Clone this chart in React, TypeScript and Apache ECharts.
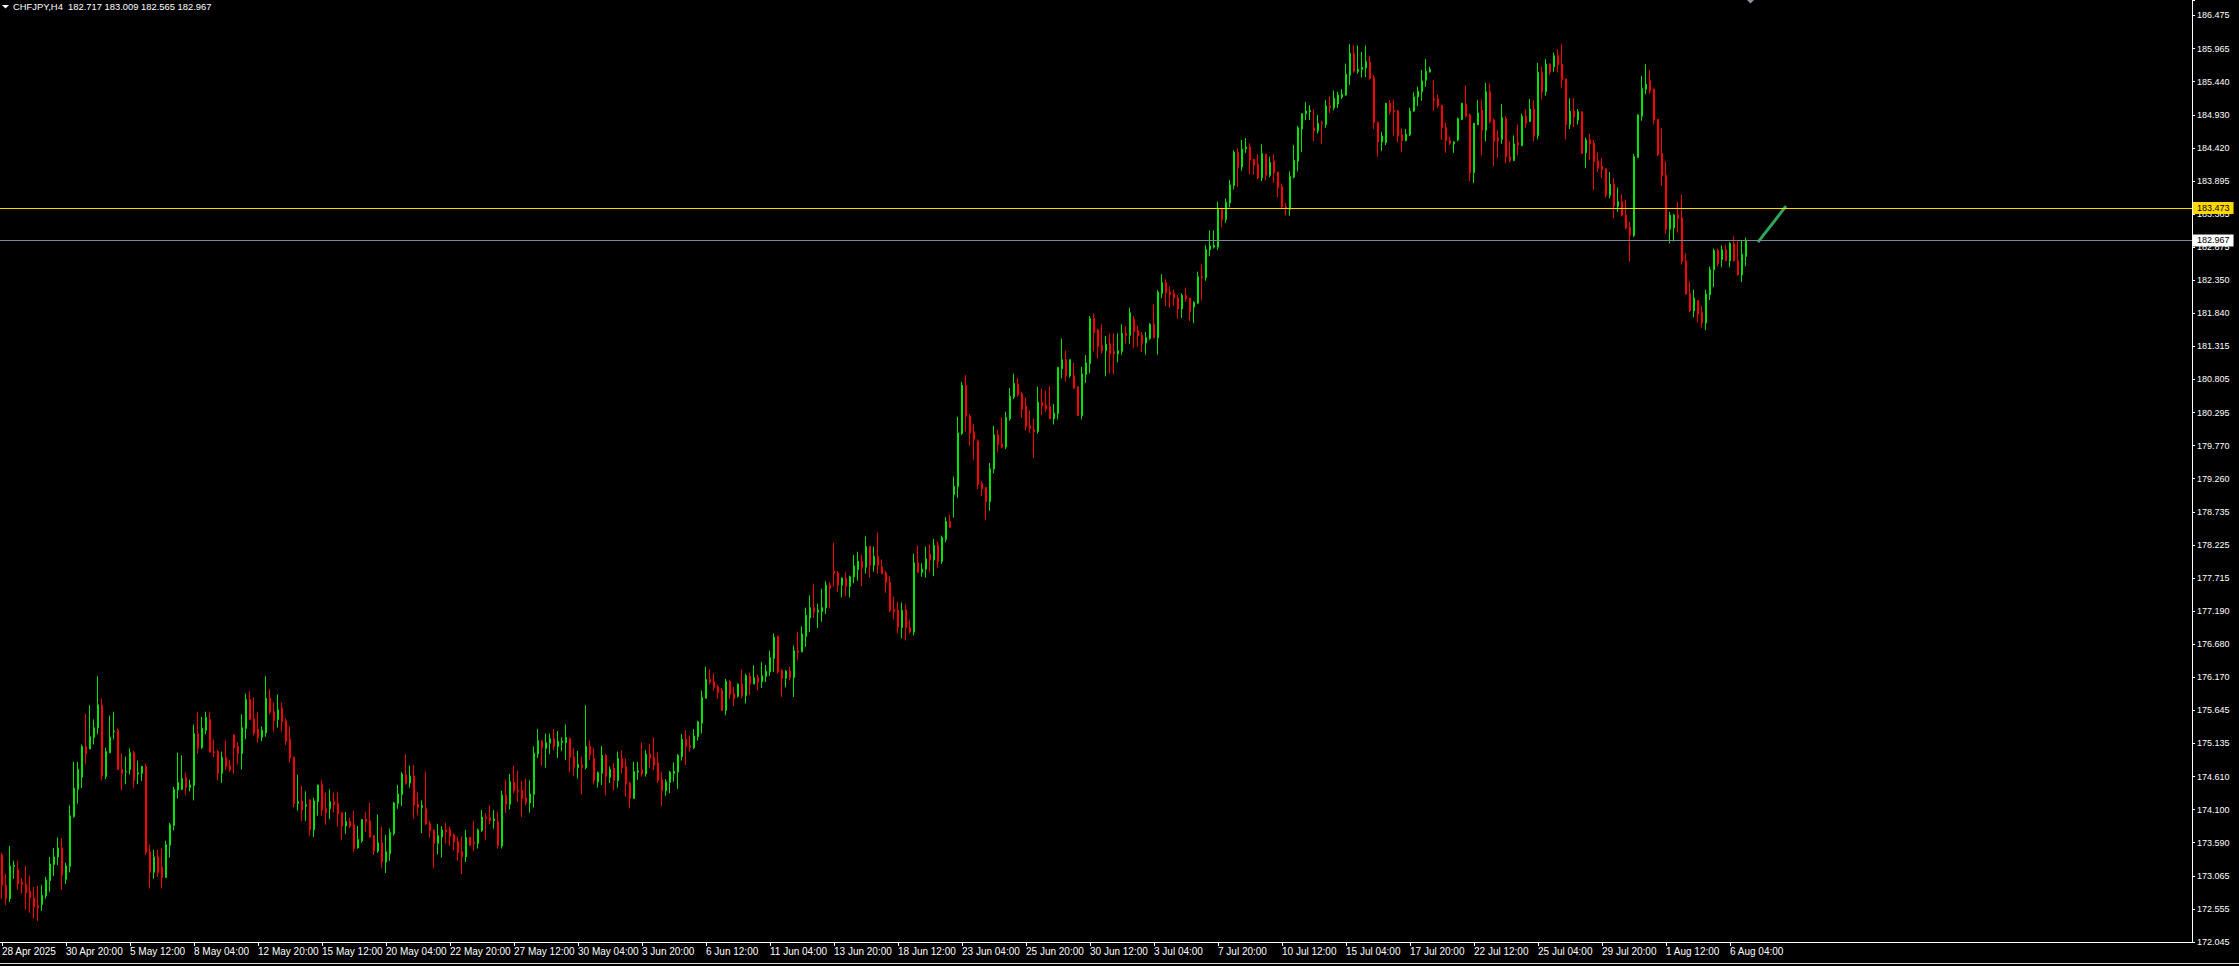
import React, { useEffect, useRef } from "react";
import * as echarts from "echarts";

// ---------- DATA ----------
const titleText = "CHFJPY,H4  182.717 183.009 182.565 182.967";

const tickLabels = [
  "28 Apr 2025", "30 Apr 20:00", "5 May 12:00", "8 May 04:00", "12 May 20:00", "15 May 12:00",
  "20 May 04:00", "22 May 20:00", "27 May 12:00", "30 May 04:00", "3 Jun 20:00", "6 Jun 12:00",
  "11 Jun 04:00", "13 Jun 20:00", "18 Jun 12:00", "23 Jun 04:00", "25 Jun 20:00", "30 Jun 12:00",
  "3 Jul 04:00", "7 Jul 20:00", "10 Jul 12:00", "15 Jul 04:00", "17 Jul 20:00", "22 Jul 12:00",
  "25 Jul 04:00", "29 Jul 20:00", "1 Aug 12:00", "6 Aug 04:00",
];

const priceLabels = [
  "172.045", "172.555", "173.065", "173.590", "174.100", "174.610", "175.135", "175.645",
  "176.170", "176.680", "177.190", "177.715", "178.225", "178.735", "179.260", "179.770",
  "180.295", "180.805", "181.315", "181.840", "182.350", "182.875", "183.385", "183.895",
  "184.420", "184.930", "185.440", "185.965", "186.475",
];

const openPrices = [
  173.40,172.93,172.72,173.22,173.17,172.97,172.94,172.83,172.73,172.61,
  172.63,172.76,173.00,173.25,173.37,173.51,173.02,173.22,174.00,174.42,
  174.61,175.09,175.05,175.23,175.38,175.73,174.62,174.99,175.32,175.34,
  174.73,174.69,174.73,174.99,174.66,174.67,174.78,173.45,173.13,173.37,
  173.21,173.05,173.55,173.86,174.41,174.42,174.60,174.45,174.48,175.29,
  175.07,175.34,175.51,175.01,175.01,174.67,174.92,174.79,175.27,175.09,
  174.98,175.37,175.82,175.52,175.36,175.23,175.30,175.84,175.63,175.51,
  175.68,175.49,175.20,174.92,174.20,174.24,174.16,174.26,173.79,174.23,
  174.49,174.12,174.12,174.23,174.20,174.06,173.85,173.92,173.87,173.51,
  173.62,173.95,173.93,173.70,173.46,173.59,173.29,173.42,173.73,174.20,
  174.34,174.65,174.52,174.63,174.19,174.14,174.12,173.89,173.79,173.58,
  173.68,173.79,173.79,173.71,173.61,173.45,173.37,173.67,173.60,173.58,
  173.78,173.99,173.98,173.93,173.92,173.54,174.33,174.19,174.53,174.41,
  174.40,174.29,174.21,174.34,174.97,175.17,175.06,175.14,175.21,175.09,
  175.15,175.15,175.21,174.93,174.76,174.80,174.76,175.09,174.90,174.54,
  174.67,174.95,174.61,174.75,174.56,174.90,174.77,174.52,174.28,174.69,
  174.73,174.66,174.97,174.92,174.83,174.57,174.40,174.53,174.67,174.69,
  174.93,175.20,175.10,175.07,175.24,175.45,175.84,176.13,176.10,176.02,
  175.96,175.65,176.10,175.91,175.87,176.06,175.88,176.18,176.06,176.16,
  176.10,176.18,176.25,176.46,176.80,176.27,176.15,176.26,176.16,176.58,
  176.56,176.80,177.09,177.25,177.18,177.19,177.25,177.60,177.82,177.79,
  177.60,177.71,177.58,177.73,177.84,177.97,177.88,178.20,177.91,178.05,
  177.88,177.79,177.64,177.22,177.21,176.94,177.22,176.94,176.87,177.95,
  177.80,177.85,178.08,177.99,178.22,177.97,178.31,178.59,179.01,179.13,
  179.96,180.71,180.23,179.99,179.84,179.18,179.12,178.90,179.41,179.94,
  179.80,179.75,180.19,180.53,180.73,180.58,180.39,180.08,180.02,179.99,
  180.44,180.40,180.38,180.19,180.27,180.97,181.11,180.86,180.86,180.69,
  180.24,180.88,181.05,181.75,181.57,181.33,181.25,181.36,181.24,181.20,
  181.24,181.52,181.49,181.74,181.56,181.49,181.37,181.44,181.66,181.45,
  182.14,182.31,182.16,182.14,182.07,181.90,182.11,182.07,181.93,181.99,
  182.40,182.39,182.82,182.86,182.86,183.45,183.29,183.55,183.82,184.34,
  184.11,184.39,184.42,184.23,184.15,183.94,184.31,183.98,184.20,184.03,
  183.80,183.49,183.45,183.95,184.20,184.70,184.94,184.97,184.72,184.67,
  184.80,184.77,185.06,185.03,185.09,185.20,185.23,185.54,185.88,185.60,
  185.63,185.65,185.74,185.50,184.80,184.50,184.49,185.10,184.99,184.98,
  184.61,184.52,184.61,184.98,185.20,185.28,185.46,185.59,185.17,185.17,
  185.07,184.73,184.52,184.47,184.53,184.85,185.09,184.92,184.02,184.77,
  184.99,184.68,185.28,184.84,184.56,184.54,184.86,184.27,184.21,184.49,
  184.44,184.90,184.82,185.01,184.60,185.58,185.28,185.71,185.67,185.84,
  185.71,185.48,184.77,184.98,184.84,184.97,184.33,184.53,184.48,184.20,
  184.12,184.08,183.67,183.84,183.50,183.57,183.36,183.17,183.04,184.26,
  184.90,185.32,185.45,185.32,184.85,184.32,183.98,183.14,183.16,183.36,
  183.32,182.65,182.14,181.87,182.03,181.85,181.68,182.12,182.51,182.81,
  182.67,182.82,182.65,182.92,182.65,182.43,182.717,
];

const highPrices = [
  173.43,173.11,173.54,173.31,173.31,173.04,173.23,173.08,172.90,172.92,
  172.93,173.06,173.37,173.51,173.67,173.66,173.28,174.17,174.85,174.85,
  175.12,175.60,175.73,175.51,176.18,175.83,175.07,175.57,175.63,175.37,
  174.98,174.93,175.06,175.02,174.87,174.78,174.82,173.56,173.48,173.48,
  173.50,173.62,173.90,174.46,174.99,174.95,174.68,174.57,175.43,175.62,
  175.55,175.63,175.62,175.20,175.04,175.01,175.18,174.88,175.27,175.15,
  175.59,175.91,175.95,175.85,175.62,175.40,176.18,175.98,175.77,175.90,
  175.77,175.52,175.40,174.93,174.65,174.48,174.39,174.26,174.29,174.49,
  174.56,174.37,174.42,174.37,174.37,174.06,174.07,173.98,174.09,173.85,
  173.95,174.07,174.21,173.71,174.03,173.84,173.71,173.81,174.23,174.49,
  174.69,174.97,174.79,174.80,174.37,174.25,174.70,173.93,173.79,173.88,
  173.85,173.90,173.84,173.73,173.68,173.69,173.79,173.68,173.93,173.81,
  174.10,174.05,174.17,174.10,174.07,174.40,174.57,174.66,174.79,174.71,
  174.56,174.59,174.56,175.09,175.36,175.19,175.29,175.29,175.36,175.33,
  175.23,175.43,175.23,175.06,175.02,174.93,175.73,175.18,175.06,174.70,
  175.10,174.97,174.78,174.83,175.01,175.03,174.90,174.54,174.85,174.85,
  175.15,175.03,175.13,175.23,174.99,174.69,174.58,174.71,174.84,174.97,
  175.28,175.34,175.26,175.36,175.49,175.96,176.33,176.29,176.23,176.05,
  176.00,176.14,176.12,176.01,176.07,176.29,176.22,176.24,176.35,176.21,
  176.40,176.36,176.58,176.85,176.82,176.29,176.28,176.33,176.66,176.87,
  176.96,177.25,177.44,177.61,177.31,177.54,177.66,177.64,178.26,177.82,
  177.72,177.80,177.75,178.07,178.12,178.07,178.36,178.20,178.20,178.42,
  178.00,177.82,177.74,177.42,177.34,177.33,177.30,177.06,178.09,178.22,
  177.94,178.20,178.23,178.32,178.28,178.37,178.66,178.70,179.29,180.22,
  180.76,180.87,180.26,180.11,179.87,179.22,179.12,179.50,180.08,180.02,
  180.21,180.30,180.67,180.89,180.83,180.61,180.52,180.32,180.19,180.69,
  180.66,180.63,180.70,180.42,180.99,181.44,181.25,181.11,181.06,180.69,
  181.00,181.18,181.79,181.83,181.59,181.66,181.48,181.52,181.52,181.52,
  181.66,181.63,181.92,181.79,181.64,181.54,181.54,181.68,181.97,182.19,
  182.44,182.36,182.25,182.20,182.11,182.14,182.23,182.07,182.02,182.48,
  182.59,182.89,183.12,183.12,183.57,183.45,183.62,183.91,184.37,184.40,
  184.53,184.56,184.48,184.23,184.31,184.46,184.31,184.27,184.31,184.03,
  183.85,183.55,184.04,184.45,184.75,184.94,185.12,185.07,185.01,184.92,
  184.83,185.15,185.21,185.30,185.28,185.32,185.72,186.02,186.01,186.00,
  185.90,186.00,185.84,185.54,184.82,184.66,185.11,185.15,185.15,185.00,
  184.71,184.70,185.03,185.27,185.36,185.62,185.79,185.67,185.46,185.24,
  185.07,184.80,184.58,184.51,184.88,185.11,185.38,184.94,184.79,185.15,
  185.16,185.42,185.41,184.86,184.68,185.09,184.90,184.51,184.60,184.77,
  184.94,185.01,185.17,185.15,185.73,185.67,185.79,185.72,185.89,185.94,
  186.02,185.48,185.18,185.18,185.01,184.97,184.57,184.62,184.53,184.33,
  184.25,184.09,184.03,183.94,183.79,183.68,183.60,183.25,184.31,184.93,
  185.53,185.71,185.62,185.33,184.85,184.71,184.20,183.41,183.38,183.57,
  183.68,182.77,182.33,182.20,182.03,181.95,182.20,182.56,182.84,182.84,
  182.89,182.90,182.94,183.03,182.95,182.96,183.009,
];

const lowPrices = [
  172.72,172.62,172.67,173.03,172.86,172.80,172.55,172.50,172.41,172.37,
  172.53,172.72,172.83,173.07,173.24,172.86,172.95,173.13,173.98,174.20,
  174.44,174.81,175.05,175.12,175.28,174.56,174.58,174.99,175.20,174.72,
  174.41,174.50,174.65,174.44,174.50,174.55,173.40,172.88,173.03,173.06,
  172.88,173.05,173.36,173.78,174.28,174.41,174.33,174.39,174.25,174.98,
  175.05,175.28,175.00,174.92,174.56,174.52,174.72,174.69,174.66,174.81,
  174.73,175.20,175.50,175.26,175.15,175.17,175.24,175.59,175.32,175.38,
  175.32,175.11,174.84,174.14,174.09,173.93,173.93,173.70,173.68,174.01,
  174.01,173.87,173.96,174.06,173.84,173.64,173.73,173.82,173.45,173.50,
  173.59,173.76,173.67,173.40,173.43,173.20,173.12,173.31,173.70,174.12,
  174.16,174.49,174.45,173.96,174.02,173.74,173.87,173.67,173.20,173.41,
  173.36,173.58,173.54,173.47,173.31,173.10,173.29,173.54,173.46,173.50,
  173.76,173.64,173.88,173.81,173.50,173.50,174.05,174.11,174.36,174.23,
  173.99,174.17,174.06,174.14,174.91,174.79,174.76,174.97,175.03,174.91,
  175.02,174.88,174.69,174.63,174.59,174.34,174.73,174.88,174.50,174.45,
  174.49,174.33,174.52,174.40,174.45,174.67,174.31,174.13,174.27,174.57,
  174.62,174.62,174.75,174.73,174.52,174.16,174.32,174.36,174.54,174.43,
  174.87,174.80,175.01,175.05,175.18,175.29,175.83,176.06,175.96,175.83,
  175.65,175.58,175.83,175.72,175.85,175.84,175.76,175.89,176.06,175.96,
  176.00,176.09,176.19,176.25,176.22,175.86,176.01,176.12,175.86,176.43,
  176.56,176.64,176.87,177.09,176.93,177.03,177.15,177.24,177.58,177.49,
  177.41,177.43,177.41,177.63,177.67,177.59,177.78,177.72,177.81,177.78,
  177.77,177.48,177.18,177.07,176.85,176.77,176.74,176.85,176.82,177.79,
  177.73,177.72,177.81,177.74,177.87,177.93,178.27,178.49,178.65,178.96,
  179.94,179.99,179.77,179.55,179.10,178.99,178.62,178.76,179.34,179.67,
  179.73,179.72,180.16,180.50,180.53,180.21,180.01,179.97,179.58,179.96,
  180.25,180.30,180.19,180.10,180.18,180.82,180.77,180.83,180.65,180.23,
  180.18,180.75,180.90,181.24,181.13,181.20,180.85,180.90,180.88,181.07,
  181.19,181.36,181.36,181.29,181.31,181.23,181.19,181.42,181.45,181.19,
  182.07,181.95,181.92,181.95,181.75,181.76,182.01,181.71,181.68,181.98,
  182.03,182.34,182.72,182.84,182.82,183.17,183.24,183.48,183.76,183.80,
  184.05,184.33,184.00,183.99,183.92,183.89,183.90,183.95,183.86,183.64,
  183.46,183.35,183.35,183.93,184.04,184.34,184.84,184.84,184.51,184.63,
  184.47,184.72,184.95,184.99,185.03,185.17,185.22,185.39,185.58,185.56,
  185.50,185.51,185.47,184.70,184.27,184.36,184.45,184.92,184.60,184.49,
  184.34,184.51,184.59,184.97,185.06,185.14,185.36,185.58,184.98,185.03,
  184.53,184.33,184.45,184.33,184.51,184.84,184.88,183.89,183.86,184.76,
  184.29,184.51,184.79,184.12,184.25,184.47,184.17,184.18,184.20,184.29,
  184.44,184.72,184.81,184.51,184.54,185.16,185.22,185.54,185.59,185.58,
  185.35,184.54,184.70,184.73,184.77,184.31,184.09,184.22,183.75,184.03,
  183.94,183.63,183.62,183.31,183.41,183.34,183.14,182.64,183.02,184.25,
  184.83,185.24,185.25,184.77,184.28,183.82,183.07,182.92,182.95,183.09,
  182.59,182.13,181.85,181.77,181.69,181.61,181.57,182.04,182.24,182.56,
  182.55,182.65,182.55,182.64,182.42,182.32,182.565,
];

const closePrices = [
  172.93,172.72,173.23,173.24,172.95,172.94,172.81,172.73,172.59,172.58,
  172.77,173.01,173.26,173.37,173.51,173.09,173.23,174.01,174.44,174.73,
  175.09,174.97,175.24,175.38,175.74,174.63,175.01,175.23,175.33,174.73,
  174.67,174.70,174.99,174.56,174.68,174.78,173.44,173.13,173.37,173.13,
  173.05,173.56,173.87,174.42,174.53,174.59,174.45,174.49,175.29,175.06,
  175.37,175.54,175.00,174.99,174.67,174.92,174.78,174.73,175.07,174.98,
  175.38,175.82,175.51,175.30,175.23,175.34,175.84,175.62,175.49,175.66,
  175.48,175.17,174.91,174.20,174.23,174.10,174.18,173.79,174.24,174.49,
  174.10,174.06,174.23,174.18,174.04,173.85,173.92,173.85,173.50,173.64,
  173.95,173.92,173.68,173.46,173.59,173.29,173.45,173.75,174.21,174.35,
  174.66,174.52,174.63,174.18,174.14,174.17,173.88,173.78,173.58,173.70,
  173.79,173.76,173.69,173.60,173.44,173.37,173.67,173.55,173.58,173.79,
  173.99,173.97,173.93,173.96,173.55,174.33,174.19,174.54,174.40,174.39,
  174.28,174.21,174.35,174.98,175.18,175.07,175.15,175.21,175.09,175.17,
  175.17,175.23,174.92,174.77,174.81,174.76,175.09,174.96,174.56,174.68,
  174.95,174.62,174.73,174.56,174.90,174.76,174.50,174.28,174.70,174.71,
  174.66,174.97,174.91,174.80,174.56,174.40,174.54,174.69,174.70,174.95,
  175.20,175.09,175.07,175.25,175.47,175.85,176.13,176.09,176.01,175.93,
  175.65,176.10,175.90,175.83,176.06,175.88,176.19,176.06,176.16,176.09,
  176.19,176.26,176.47,176.79,176.25,176.15,176.26,176.16,176.58,176.55,
  176.84,177.13,177.25,177.18,177.21,177.25,177.60,177.55,177.78,177.60,
  177.71,177.58,177.73,177.90,177.97,177.87,178.20,177.91,178.05,177.91,
  177.78,177.64,177.21,177.19,176.95,177.21,176.94,176.87,177.95,177.80,
  177.85,178.01,177.99,178.22,177.97,178.34,178.59,178.50,179.14,179.97,
  180.71,180.23,179.97,179.87,179.17,179.10,178.90,179.41,179.94,179.79,
  179.75,180.21,180.54,180.74,180.57,180.34,180.07,180.04,179.99,180.45,
  180.39,180.35,180.19,180.28,180.99,181.11,180.86,181.11,180.67,180.24,
  180.89,181.06,181.75,181.53,181.32,181.25,181.35,181.20,181.20,181.25,
  181.52,181.49,181.84,181.55,181.48,181.37,181.45,181.66,181.45,182.16,
  182.31,182.15,182.12,182.07,181.90,182.11,182.06,181.86,182.00,182.40,
  182.39,182.82,182.88,182.89,183.45,183.29,183.56,183.83,184.34,184.10,
  184.39,184.42,184.22,184.14,183.94,184.32,183.98,184.18,184.02,183.79,
  183.49,183.46,183.96,184.21,184.72,184.94,184.98,184.99,184.67,184.79,
  184.79,185.06,185.03,185.18,185.23,185.24,185.55,185.88,185.60,185.63,
  185.66,185.75,185.49,184.80,184.50,184.59,185.10,184.98,184.97,184.59,
  184.52,184.62,184.98,185.20,185.29,185.45,185.60,185.63,185.15,185.06,
  184.72,184.52,184.48,184.50,184.86,185.10,184.90,184.02,184.79,184.95,
  184.68,185.28,184.82,184.51,184.51,184.88,184.27,184.21,184.47,184.45,
  184.90,184.79,185.01,184.60,185.58,185.28,185.71,185.59,185.84,185.70,
  185.47,184.77,184.98,184.89,184.97,184.32,184.53,184.47,184.19,184.09,
  184.07,183.67,183.84,183.50,183.57,183.36,183.16,183.05,184.27,184.92,
  185.33,185.40,185.29,184.84,184.30,183.98,183.14,183.36,183.36,183.31,
  182.64,182.13,181.87,182.07,181.82,181.68,182.13,182.51,182.81,182.61,
  182.82,182.65,182.92,182.65,182.43,182.75,182.967,
];

// horizontal price lines
const levelLine = 183.473;
const levelLabel = "183.473";
const bidLine = 182.967;
const bidLabel = "182.967";

// hand-drawn trend line (bar index, price)
const trendX = [439, 446];
const trendY = [182.94, 183.5];

// axis settings
const TOTAL_SLOTS = 548; // bars + empty chart-shift space
const LABEL_EVERY = 16;
const Y_MIN = 172.045;
const Y_STEP = 172.045 / 334;
const Y_MAX = 186.709;

const FONT = '"Liberation Sans", Arial, sans-serif';
const UP = "#00e600";
const DOWN = "#ff0000";

function buildCategories(n: number): string[] {
  const months = ["Jan", "Feb", "Mar", "Apr", "May", "Jun", "Jul", "Aug", "Sep", "Oct", "Nov", "Dec"];
  const out: string[] = [];
  let t = Date.UTC(2025, 3, 28, 4);
  while (out.length < n) {
    const d = new Date(t);
    const wd = d.getUTCDay();
    if (wd !== 0 && wd !== 6) {
      const hh = String(d.getUTCHours()).padStart(2, "0");
      out.push(`${d.getUTCDate()} ${months[d.getUTCMonth()]} ${d.getUTCFullYear()} ${hh}:00`);
    }
    t += 4 * 3600 * 1000;
  }
  return out;
}

export default function App() {
  const ref = useRef<HTMLDivElement>(null);

  useEffect(() => {
    const el = ref.current;
    if (!el) return;
    const chart = echarts.init(el, null, { renderer: "svg" });

    const categories = buildCategories(TOTAL_SLOTS);
    const ohlc = openPrices.map((o, i) => [o, closePrices[i], lowPrices[i], highPrices[i]]);
    const lastLabelIdx = (tickLabels.length - 1) * LABEL_EVERY;
    const showIdx = (i: number) => i % LABEL_EVERY === 0 && i <= lastLabelIdx;

    const priceLabelFmt = (v: number) => {
      const r = (v - Y_MIN) / Y_STEP;
      const k = Math.round(r);
      if (Math.abs(r - k) > 0.05 || k < 0 || k >= priceLabels.length) return "";
      return priceLabels[k];
    };

    const boxLabel = (bg: string, text: string) => ({
      show: true,
      position: "end",
      distance: 1,
      formatter: () => text,
      backgroundColor: bg,
      color: "#000000",
      fontSize: 9,
      fontFamily: FONT,
      padding: [2, 4, 1, 4],
    });

    const option: any = {
      animation: false,
      backgroundColor: "#000000",
      title: {
        text: titleText,
        left: 13,
        top: 2,
        padding: 0,
        textStyle: { color: "#ffffff", fontSize: 9.4, fontWeight: "normal", fontFamily: FONT },
      },
      grid: {
        left: 0,
        top: 0,
        width: 2192,
        height: 942,
        containLabel: false,
        outerBoundsMode: "none",
      },
      xAxis: {
        type: "category",
        data: categories,
        boundaryGap: true,
        axisLine: { show: true, lineStyle: { color: "#ffffff", width: 1 } },
        axisTick: {
          show: true,
          interval: (i: number) => showIdx(i),
          alignWithLabel: true,
          length: 4,
          lineStyle: { color: "#ffffff" },
        },
        axisLabel: {
          interval: (i: number) => showIdx(i),
          formatter: (_v: string, i: number) => tickLabels[i / LABEL_EVERY] ?? "",
          color: "#ffffff",
          fontSize: 10,
          fontFamily: FONT,
          align: "left",
          margin: 4,
        },
        splitLine: { show: false },
      },
      yAxis: {
        type: "value",
        position: "right",
        min: Y_MIN,
        max: Y_MAX,
        interval: Y_STEP,
        axisLine: { show: true, lineStyle: { color: "#ffffff", width: 1 } },
        axisTick: { show: true, length: 3, inside: false, lineStyle: { color: "#ffffff" } },
        axisLabel: {
          color: "#ffffff",
          fontSize: 9,
          fontFamily: FONT,
          margin: 5,
          formatter: priceLabelFmt,
        },
        splitLine: { show: false },
      },
      series: [
        {
          type: "candlestick",
          data: ohlc,
          barWidth: 2,
          silent: true,
          itemStyle: {
            color: UP,
            color0: DOWN,
            borderColor: UP,
            borderColor0: DOWN,
            borderColorDoji: UP,
            borderWidth: 1,
          },
          markLine: {
            silent: true,
            symbol: ["none", "none"],
            animation: false,
            precision: 3,
            data: [
              {
                yAxis: levelLine,
                lineStyle: { color: "#ffd700", width: 1, type: "solid" },
                label: boxLabel("#ffd700", levelLabel),
              },
              {
                yAxis: bidLine,
                lineStyle: { color: "#778899", width: 1, type: "solid" },
                label: boxLabel("#ffffff", bidLabel),
              },
            ],
          },
        },
        {
          type: "line",
          data: trendX.map((x, i) => [x, trendY[i]]),
          symbol: "none",
          silent: true,
          z: 4,
          lineStyle: { color: "#2ea85a", width: 3 },
        },
      ],
      graphic: [
        { type: "polygon", shape: { points: [[2, 5], [9, 5], [5.5, 8.5]] }, style: { fill: "#ffffff" } },
        { type: "polygon", shape: { points: [[1747, 0], [1754, 0], [1750.5, 3.5]] }, style: { fill: "#8596a8" } },
        { type: "rect", shape: { x: 0, y: 963, width: 2239, height: 1 }, style: { fill: "#d8d8d8" } },
      ],
    };

    chart.setOption(option);
    return () => chart.dispose();
  }, []);

  return (
    <div
      ref={ref}
      style={{ position: "fixed", left: 0, top: 0, width: 2239, height: 966, background: "#000000" }}
    />
  );
}
